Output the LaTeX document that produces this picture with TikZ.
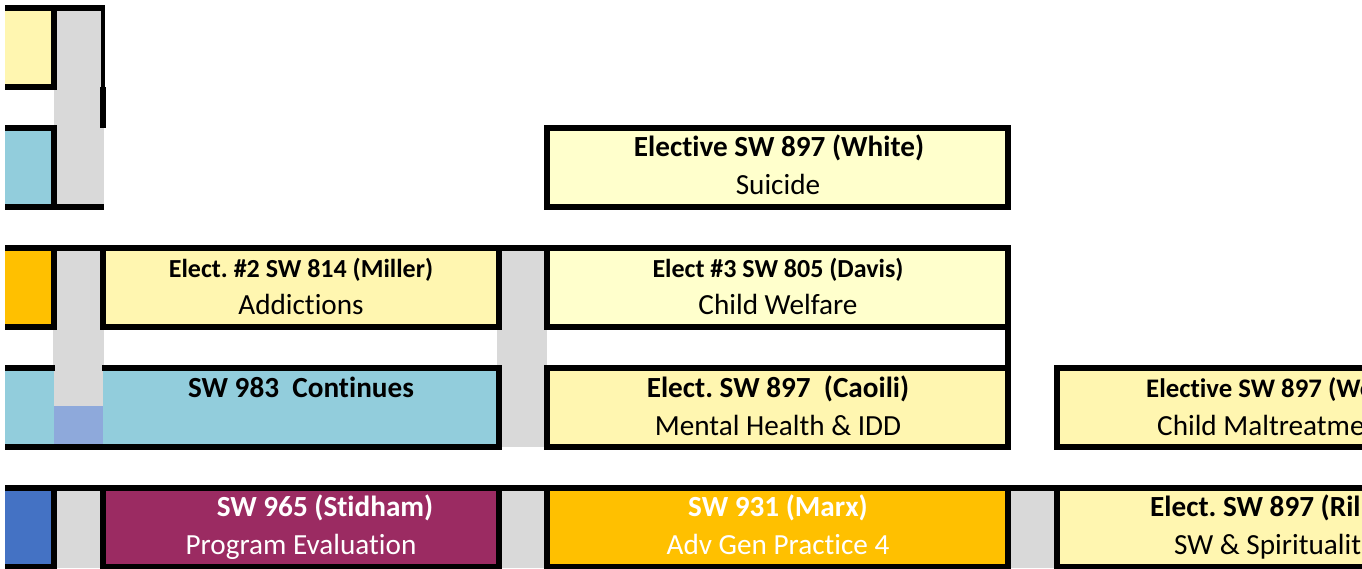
\documentclass[tikz,border=0pt]{standalone}
\usepackage{fontspec}
\setmainfont{Carlito}[Ligatures=NoCommon]
\definecolor{yla}{HTML}{FFF6B0}
\definecolor{ylb}{HTML}{FFFFCC}
\definecolor{aqua}{HTML}{92CDDC}
\definecolor{lav}{HTML}{8EA9DB}
\definecolor{gold}{HTML}{FFC000}
\definecolor{dblue}{HTML}{4472C4}
\definecolor{plum}{HTML}{9B2B62}
\definecolor{gry}{HTML}{D9D9D9}
\begin{document}
\begin{tikzpicture}[x=1pt,y=-1pt,
  ln/.style={line width=6pt,line cap=butt},
  lnthin/.style={line width=4pt,line cap=butt},
  ttl/.style={font=\fontsize{29.2}{34}\selectfont\bfseries\frenchspacing,inner sep=0pt,anchor=base},
  ttls/.style={font=\fontsize{26}{30}\selectfont\bfseries\frenchspacing,inner sep=0pt,anchor=base},
  ttlm/.style={font=\fontsize{26.8}{31}\selectfont\bfseries\frenchspacing,inner sep=0pt,anchor=base},
  sub/.style={font=\fontsize{29.2}{34}\selectfont\frenchspacing,inner sep=0pt,anchor=base},
  lft/.style={anchor=base west}]
\useasboundingbox (0,0) rectangle (1362,568);
\clip (0,0) rectangle (1362,568);
% ---------- fills ----------
% rows 1-3
\fill[yla] (5,8) rectangle (54,87);
\fill[gry] (54,8) rectangle (104,207);
\fill[aqua] (5,128) rectangle (54,207);
\fill[ylb] (547,128) rectangle (1008,207);
% rows 5-7
\fill[gold] (5,248) rectangle (54,327);
\fill[gry] (53,248) rectangle (104,406);
\fill[lav] (53,406) rectangle (104,447);
\fill[yla] (103,248) rectangle (499,327);
\fill[gry] (497,248) rectangle (547,447);
\fill[ylb] (547,248) rectangle (1008,327);
\fill[aqua] (5,368) rectangle (54,447);
\fill[aqua] (103,368) rectangle (499,447);
\fill[yla] (547,368) rectangle (1008,447);
\fill[yla] (1057,368) rectangle (1362,447);
% row 9
\fill[dblue] (5,488) rectangle (54,568);
\fill[gry] (54,488) rectangle (103,568);
\fill[plum] (103,488) rectangle (499,568);
\fill[gry] (499,488) rectangle (547,568);
\fill[gold] (547,488) rectangle (1008,568);
\fill[gry] (1008,488) rectangle (1057,568);
\fill[yla] (1057,488) rectangle (1362,568);
% ---------- borders ----------
% row 1
\draw[ln] (5,8) -- (105,8);
\draw[ln] (5,87) -- (57,87);
\draw[ln] (54,5) -- (54,90);
\draw[lnthin] (103,5) -- (103,87);
\draw[ln] (103,87) -- (103,128);
% row 3
\draw[ln] (5,128) -- (57,128);
\draw[ln] (54,125) -- (54,210);
\draw[ln] (5,207) -- (104,207);
\draw[ln] (547,128) rectangle (1008,207);
% row 5
\draw[ln] (5,248) -- (1011,248);
\draw[ln] (54,245) -- (54,330);
\draw[ln] (103,245) -- (103,330);
\draw[ln] (499,245) -- (499,330);
\draw[ln] (547,245) -- (547,330);
\draw[ln] (1008,245) -- (1008,450);
\draw[ln] (5,327) -- (57,327);
\draw[ln] (100,327) -- (502,327);
\draw[ln] (544,327) -- (1011,327);
% row 7
\draw[ln] (5,368) -- (55,368);
\draw[ln] (102,368) -- (502,368);
\draw[ln] (544,368) -- (1011,368);
\draw[ln] (1054,368) -- (1362,368);
\draw[ln] (499,365) -- (499,450);
\draw[ln] (547,365) -- (547,450);
\draw[ln] (1057,365) -- (1057,450);
\draw[ln] (5,447) -- (502,447);
\draw[ln] (544,447) -- (1011,447);
\draw[ln] (1054,447) -- (1362,447);
% row 9
\draw[ln] (5,488) -- (1362,488);
\foreach \xx in {54,103,499,547,1008,1057} \draw[ln] (\xx,485) -- (\xx,568);
\draw[ln] (5,567) -- (57,567);
\draw[ln] (100,567) -- (502,567);
\draw[ln] (544,567) -- (1011,567);
\draw[ln] (1054,567) -- (1362,567);
% ---------- texts ----------
\node[ttl] (whiteT) at (779,156) {Elective SW 897 (White)};
\node[sub] (whiteS) at (778,194) {Suicide};
\node[ttls] (millerT) at (301,277) {Elect. \#2 SW 814 (Miller)};
\node[sub] (millerS) at (301,314) {Addictions};
\node[ttls] (davisT) at (778,277) {Elect \#3 SW 805 (Davis)};
\node[sub] (davisS) at (778,314) {Child Welfare};
\node[ttl] (contT) at (301,397) {SW 983~~Continues};
\node[ttl] (caoiliT) at (778,397) {Elect. SW 897~~(Caoili)};
\node[sub] (caoiliS) at (778,435) {Mental Health \& IDD};
\node[ttlm,lft] (wT) at (1146,397) {Elective SW 897 (We};
\node[sub,lft] (wS) at (1157,435) {Child Maltreatme};
\node[ttl,text=white] (stidT) at (325,516) {SW 965 (Stidham)};
\node[sub,text=white] (stidS) at (301,554) {Program Evaluation};
\node[ttl,text=white] (marxT) at (778,516) {SW 931 (Marx)};
\node[sub,text=white] (marxS) at (778,554) {Adv Gen Practice 4};
\node[ttl,lft] (rT) at (1150,516) {Elect. SW 897 (Ril};
\node[sub,lft] (rS) at (1174,554) {SW \& Spiritualit};
\end{tikzpicture}
\end{document}
